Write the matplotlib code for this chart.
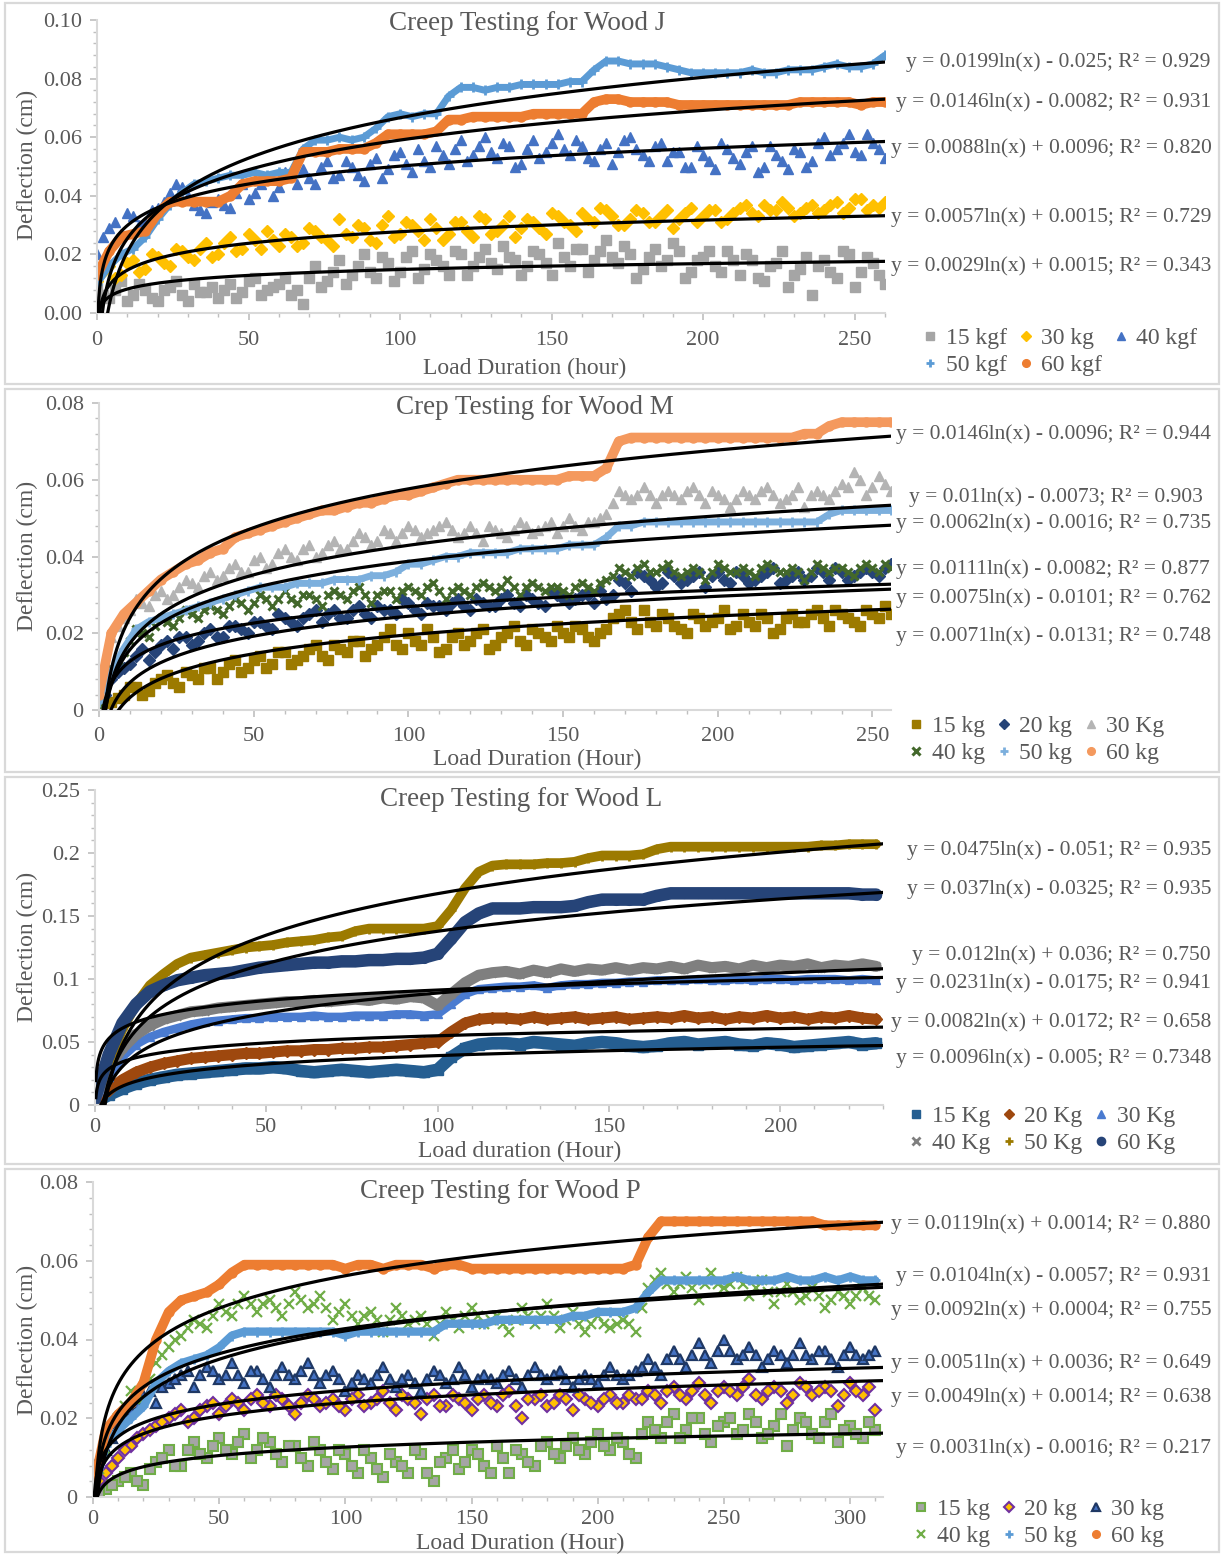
import numpy as np
import matplotlib
matplotlib.use("Agg")
import matplotlib.pyplot as plt
from matplotlib.lines import Line2D
from matplotlib.patches import Rectangle
from matplotlib.ticker import MultipleLocator, FuncFormatter

plt.rcParams["font.family"] = ["Liberation Serif", "DejaVu Serif"]

# ---------------- Wood J (readings every 4 h, extra readings 2 h later for scattered loads) ----------------
J_HOURS = np.arange(0, 261, 4)
J_MID_HOURS = np.arange(2, 259, 4)
J_LABELS = ["15 kgf", "30 kg", "40 kgf", "50 kgf", "60 kgf"]
J_15 = [0.009, 0.005, 0.011, 0.006, 0.008, 0.004, 0.009, 0.006, 0.010, 0.007,
        0.005, 0.010, 0.007, 0.012, 0.008, 0.010, 0.006, 0.003, 0.016, 0.011,
        0.018, 0.013, 0.020, 0.012, 0.017, 0.014, 0.021, 0.015, 0.018, 0.013,
        0.020, 0.016, 0.022, 0.015, 0.019, 0.013, 0.021, 0.017, 0.024, 0.016,
        0.022, 0.018, 0.025, 0.017, 0.020, 0.015, 0.022, 0.018, 0.021, 0.014,
        0.019, 0.016, 0.021, 0.013, 0.018, 0.011, 0.017, 0.009, 0.015, 0.006,
        0.018, 0.012, 0.020, 0.014, 0.017, 0.010]
J_15_MID = [0.006, 0.008, 0.004, 0.010, 0.005, 0.008, 0.011, 0.004, 0.007, 0.009,
            0.008, 0.005, 0.011, 0.006, 0.009, 0.012, 0.008, 0.012, 0.009, 0.014,
            0.010, 0.016, 0.014, 0.019, 0.011, 0.019, 0.012, 0.020, 0.016, 0.021,
            0.013, 0.019, 0.017, 0.023, 0.018, 0.016, 0.020, 0.013, 0.019, 0.022,
            0.014, 0.021, 0.019, 0.023, 0.012, 0.019, 0.016, 0.024, 0.012, 0.018,
            0.021, 0.014, 0.018, 0.020, 0.012, 0.016, 0.021, 0.013, 0.019, 0.016,
            0.014, 0.021, 0.009, 0.019, 0.013]
J_30 = [0.011, 0.016, 0.013, 0.018, 0.015, 0.019, 0.016, 0.021, 0.018, 0.024,
        0.020, 0.026, 0.022, 0.025, 0.028, 0.023, 0.026, 0.024, 0.028, 0.025,
        0.032, 0.026, 0.029, 0.024, 0.033, 0.027, 0.030, 0.025, 0.029, 0.027,
        0.031, 0.026, 0.032, 0.028, 0.033, 0.029, 0.031, 0.027, 0.033, 0.030,
        0.034, 0.031, 0.035, 0.030, 0.032, 0.034, 0.031, 0.035, 0.032, 0.036,
        0.033, 0.035, 0.032, 0.036, 0.034, 0.037, 0.035, 0.036, 0.034, 0.037,
        0.035, 0.038, 0.036, 0.039, 0.037, 0.038]
J_30_MID = [0.014, 0.012, 0.017, 0.014, 0.020, 0.017, 0.022, 0.019, 0.022, 0.019,
            0.024, 0.021, 0.027, 0.022, 0.025, 0.027, 0.023, 0.029, 0.026, 0.023,
            0.027, 0.030, 0.025, 0.030, 0.026, 0.031, 0.028, 0.032, 0.025, 0.031,
            0.028, 0.033, 0.027, 0.030, 0.026, 0.032, 0.029, 0.034, 0.031, 0.028,
            0.032, 0.036, 0.033, 0.030, 0.035, 0.031, 0.033, 0.029, 0.034, 0.031,
            0.035, 0.031, 0.034, 0.037, 0.033, 0.035, 0.038, 0.033, 0.036, 0.034,
            0.037, 0.034, 0.039, 0.035, 0.036]
J_40 = [0.020, 0.029, 0.027, 0.033, 0.031, 0.036, 0.041, 0.043, 0.037, 0.034,
        0.039, 0.036, 0.044, 0.041, 0.046, 0.043, 0.047, 0.049, 0.044, 0.052,
        0.047, 0.050, 0.045, 0.053, 0.049, 0.055, 0.048, 0.052, 0.057, 0.051,
        0.059, 0.054, 0.060, 0.053, 0.057, 0.051, 0.059, 0.055, 0.061, 0.054,
        0.057, 0.052, 0.058, 0.055, 0.060, 0.054, 0.057, 0.052, 0.055, 0.050,
        0.054, 0.049, 0.056, 0.051, 0.057, 0.050, 0.054, 0.049, 0.055, 0.052,
        0.060, 0.056, 0.061, 0.054, 0.058, 0.053]
J_40_MID = [0.026, 0.031, 0.034, 0.030, 0.035, 0.038, 0.044, 0.040, 0.035, 0.038,
            0.037, 0.041, 0.039, 0.044, 0.040, 0.048, 0.044, 0.046, 0.050, 0.046,
            0.052, 0.047, 0.051, 0.046, 0.054, 0.051, 0.056, 0.050, 0.054, 0.056,
            0.052, 0.057, 0.055, 0.058, 0.050, 0.056, 0.053, 0.058, 0.056, 0.059,
            0.053, 0.056, 0.051, 0.059, 0.056, 0.052, 0.058, 0.055, 0.050, 0.057,
            0.052, 0.058, 0.053, 0.055, 0.048, 0.057, 0.052, 0.056, 0.050, 0.058,
            0.054, 0.058, 0.055, 0.061, 0.056]
J_50 = [0.010, 0.016, 0.020, 0.022, 0.026, 0.032, 0.037, 0.041, 0.044, 0.045,
        0.046, 0.047, 0.047, 0.048, 0.047, 0.048, 0.048, 0.056, 0.059, 0.059,
        0.060, 0.059, 0.060, 0.063, 0.067, 0.068, 0.067, 0.068, 0.068, 0.074,
        0.077, 0.077, 0.076, 0.077, 0.077, 0.078, 0.078, 0.078, 0.078, 0.079,
        0.079, 0.083, 0.086, 0.086, 0.085, 0.085, 0.085, 0.084, 0.083, 0.082,
        0.082, 0.082, 0.082, 0.082, 0.083, 0.082, 0.082, 0.083, 0.083, 0.083,
        0.084, 0.085, 0.084, 0.084, 0.085, 0.088]
J_60 = [0.013, 0.021, 0.026, 0.027, 0.028, 0.034, 0.038, 0.038, 0.038, 0.038,
        0.038, 0.040, 0.044, 0.045, 0.045, 0.045, 0.046, 0.055, 0.055, 0.055,
        0.056, 0.056, 0.056, 0.058, 0.061, 0.061, 0.061, 0.061, 0.062, 0.066,
        0.066, 0.067, 0.067, 0.067, 0.067, 0.067, 0.068, 0.068, 0.068, 0.068,
        0.068, 0.072, 0.073, 0.073, 0.072, 0.072, 0.072, 0.072, 0.071, 0.071,
        0.071, 0.071, 0.071, 0.071, 0.071, 0.071, 0.071, 0.071, 0.072, 0.072,
        0.072, 0.072, 0.072, 0.071, 0.072, 0.072]
J_FIT_A = [0.0199, 0.0146, 0.0088, 0.0057, 0.0029]
J_FIT_B = [-0.025, -0.0082, 0.0096, 0.0015, 0.0015]
J_EQUATIONS = ["y = 0.0199ln(x) - 0.025; R² = 0.929",
               "y = 0.0146ln(x) - 0.0082; R² = 0.931",
               "y = 0.0088ln(x) + 0.0096; R² = 0.820",
               "y = 0.0057ln(x) + 0.0015; R² = 0.729",
               "y = 0.0029ln(x) + 0.0015; R² = 0.343"]

# ---------------- Wood M (readings every 4 h, extra readings 2 h later for scattered loads) ----------------
M_HOURS = np.arange(0, 257, 4)
M_MID_HOURS = np.arange(2, 255, 4)
M_LABELS = ["15 kg", "20 kg", "30 Kg", "40 kg", "50 kg", "60 kg"]
M_15 = [0.000, 0.002, 0.004, 0.006, 0.005, 0.008, 0.007, 0.010, 0.008, 0.011,
        0.010, 0.013, 0.011, 0.014, 0.012, 0.015, 0.013, 0.016, 0.014, 0.017,
        0.015, 0.018, 0.016, 0.019, 0.017, 0.020, 0.017, 0.019, 0.016, 0.020,
        0.018, 0.021, 0.017, 0.020, 0.018, 0.021, 0.019, 0.022, 0.019, 0.021,
        0.018, 0.021, 0.025, 0.023, 0.026, 0.022, 0.024, 0.021, 0.025, 0.022,
        0.024, 0.021, 0.025, 0.022, 0.024, 0.021, 0.025, 0.023, 0.026, 0.022,
        0.025, 0.023, 0.026, 0.024, 0.025]
M_15_MID = [0.001, 0.003, 0.006, 0.004, 0.007, 0.009, 0.006, 0.009, 0.011, 0.008,
            0.012, 0.010, 0.013, 0.011, 0.015, 0.012, 0.014, 0.017, 0.013, 0.016,
            0.018, 0.014, 0.017, 0.021, 0.016, 0.018, 0.021, 0.015, 0.019, 0.017,
            0.020, 0.016, 0.019, 0.022, 0.017, 0.020, 0.018, 0.020, 0.022, 0.019,
            0.020, 0.024, 0.026, 0.021, 0.023, 0.025, 0.022, 0.020, 0.024, 0.023,
            0.026, 0.022, 0.023, 0.025, 0.020, 0.024, 0.023, 0.025, 0.024, 0.026,
            0.024, 0.022, 0.025, 0.027]
M_20 = [0.000, 0.008, 0.011, 0.014, 0.013, 0.017, 0.016, 0.019, 0.018, 0.021,
        0.019, 0.022, 0.020, 0.023, 0.021, 0.024, 0.022, 0.025, 0.023, 0.026,
        0.024, 0.027, 0.024, 0.026, 0.025, 0.028, 0.025, 0.027, 0.026, 0.029,
        0.026, 0.028, 0.027, 0.030, 0.027, 0.029, 0.027, 0.030, 0.028, 0.030,
        0.028, 0.029, 0.034, 0.031, 0.035, 0.032, 0.036, 0.033, 0.035, 0.032,
        0.036, 0.033, 0.035, 0.034, 0.036, 0.033, 0.035, 0.034, 0.037, 0.034,
        0.036, 0.035, 0.037, 0.035, 0.038]
M_20_MID = [0.004, 0.010, 0.012, 0.016, 0.015, 0.018, 0.019, 0.017, 0.020, 0.019,
            0.022, 0.021, 0.023, 0.022, 0.025, 0.023, 0.024, 0.026, 0.025, 0.024,
            0.026, 0.025, 0.027, 0.026, 0.029, 0.026, 0.028, 0.027, 0.028, 0.027,
            0.029, 0.027, 0.029, 0.028, 0.030, 0.028, 0.031, 0.029, 0.029, 0.030,
            0.031, 0.030, 0.033, 0.036, 0.034, 0.033, 0.035, 0.034, 0.036, 0.035,
            0.034, 0.036, 0.033, 0.035, 0.037, 0.034, 0.036, 0.035, 0.036, 0.037,
            0.034, 0.036, 0.036, 0.037]
M_30 = [0.005, 0.019, 0.024, 0.029, 0.027, 0.031, 0.030, 0.034, 0.032, 0.036,
        0.035, 0.038, 0.036, 0.040, 0.038, 0.042, 0.039, 0.043, 0.041, 0.044,
        0.042, 0.046, 0.043, 0.047, 0.044, 0.048, 0.045, 0.047, 0.049, 0.045,
        0.048, 0.044, 0.047, 0.045, 0.049, 0.046, 0.048, 0.046, 0.050, 0.047,
        0.049, 0.051, 0.057, 0.055, 0.058, 0.054, 0.057, 0.055, 0.058, 0.054,
        0.056, 0.053, 0.057, 0.055, 0.058, 0.054, 0.056, 0.053, 0.057, 0.055,
        0.059, 0.062, 0.056, 0.061, 0.057]
M_30_MID = [0.012, 0.022, 0.026, 0.028, 0.030, 0.029, 0.032, 0.033, 0.035, 0.034,
            0.037, 0.036, 0.039, 0.037, 0.041, 0.040, 0.042, 0.040, 0.043, 0.042,
            0.044, 0.045, 0.044, 0.046, 0.046, 0.047, 0.046, 0.048, 0.047, 0.046,
            0.046, 0.048, 0.046, 0.047, 0.048, 0.047, 0.049, 0.048, 0.048, 0.049,
            0.050, 0.054, 0.056, 0.056, 0.056, 0.056, 0.056, 0.057, 0.056, 0.057,
            0.055, 0.055, 0.056, 0.057, 0.056, 0.055, 0.058, 0.056, 0.056, 0.057,
            0.058, 0.060, 0.058, 0.059]
M_40 = [0.001, 0.011, 0.015, 0.021, 0.019, 0.024, 0.022, 0.026, 0.024, 0.027,
        0.025, 0.029, 0.026, 0.030, 0.027, 0.031, 0.028, 0.030, 0.027, 0.031,
        0.029, 0.032, 0.028, 0.031, 0.029, 0.032, 0.030, 0.033, 0.029, 0.032,
        0.030, 0.033, 0.031, 0.034, 0.030, 0.033, 0.031, 0.032, 0.030, 0.033,
        0.031, 0.034, 0.037, 0.035, 0.038, 0.036, 0.038, 0.035, 0.037, 0.034,
        0.038, 0.036, 0.037, 0.035, 0.038, 0.036, 0.037, 0.034, 0.038, 0.036,
        0.037, 0.035, 0.038, 0.036, 0.037]
M_40_MID = [0.006, 0.013, 0.018, 0.020, 0.022, 0.023, 0.024, 0.025, 0.026, 0.026,
            0.027, 0.028, 0.028, 0.029, 0.029, 0.029, 0.030, 0.029, 0.030, 0.030,
            0.031, 0.030, 0.030, 0.031, 0.031, 0.031, 0.032, 0.031, 0.031, 0.031,
            0.032, 0.032, 0.032, 0.032, 0.032, 0.032, 0.032, 0.031, 0.032, 0.032,
            0.033, 0.035, 0.036, 0.037, 0.036, 0.037, 0.036, 0.036, 0.036, 0.036,
            0.037, 0.036, 0.036, 0.037, 0.037, 0.036, 0.036, 0.036, 0.037, 0.037,
            0.036, 0.037, 0.037, 0.038]
M_50 = [0.002, 0.010, 0.016, 0.021, 0.023, 0.024, 0.025, 0.026, 0.027, 0.028,
        0.029, 0.030, 0.031, 0.032, 0.032, 0.032, 0.033, 0.033, 0.033, 0.034,
        0.034, 0.034, 0.035, 0.035, 0.036, 0.038, 0.038, 0.039, 0.040, 0.040,
        0.041, 0.041, 0.041, 0.041, 0.042, 0.042, 0.042, 0.042, 0.043, 0.043,
        0.043, 0.045, 0.048, 0.048, 0.049, 0.049, 0.049, 0.049, 0.049, 0.049,
        0.049, 0.049, 0.049, 0.049, 0.049, 0.049, 0.049, 0.049, 0.049, 0.051,
        0.052, 0.052, 0.052, 0.052, 0.052]
M_60 = [0.004, 0.020, 0.025, 0.028, 0.031, 0.034, 0.036, 0.038, 0.039, 0.041,
        0.042, 0.045, 0.046, 0.047, 0.048, 0.049, 0.050, 0.051, 0.052, 0.052,
        0.053, 0.054, 0.054, 0.055, 0.056, 0.056, 0.057, 0.058, 0.059, 0.060,
        0.060, 0.060, 0.060, 0.060, 0.060, 0.060, 0.060, 0.060, 0.061, 0.061,
        0.061, 0.063, 0.070, 0.071, 0.071, 0.071, 0.071, 0.071, 0.071, 0.071,
        0.071, 0.071, 0.071, 0.071, 0.071, 0.071, 0.071, 0.072, 0.072, 0.074,
        0.075, 0.075, 0.075, 0.075, 0.075]
M_FIT_A = [0.0146, 0.01, 0.0062, 0.0111, 0.0075, 0.0071]
M_FIT_B = [-0.0096, -0.0073, -0.0016, -0.0082, -0.0101, -0.0131]
M_EQUATIONS = ["y = 0.0146ln(x) - 0.0096; R² = 0.944",
               "y = 0.01ln(x) - 0.0073; R² = 0.903",
               "y = 0.0062ln(x) - 0.0016; R² = 0.735",
               "y = 0.0111ln(x) - 0.0082; R² = 0.877",
               "y = 0.0075ln(x) - 0.0101; R² = 0.762",
               "y = 0.0071ln(x) - 0.0131; R² = 0.748"]

# ---------------- Wood L (readings every 4 h) ----------------
L_HOURS = np.arange(0, 229, 4)
L_LABELS = ["15 Kg", "20 Kg", "30 Kg", "40 Kg", "50 Kg", "60 Kg"]
L_15 = [0.002, 0.008, 0.013, 0.017, 0.020, 0.022, 0.024, 0.025, 0.026, 0.027,
        0.028, 0.029, 0.029, 0.030, 0.029, 0.027, 0.026, 0.027, 0.028, 0.027,
        0.026, 0.027, 0.028, 0.027, 0.026, 0.028, 0.038, 0.045, 0.048, 0.049,
        0.049, 0.048, 0.050, 0.049, 0.048, 0.047, 0.049, 0.050, 0.049, 0.047,
        0.046, 0.047, 0.049, 0.050, 0.048, 0.049, 0.050, 0.048, 0.047, 0.049,
        0.048, 0.046, 0.047, 0.048, 0.049, 0.050, 0.048, 0.049]
L_20 = [0.003, 0.012, 0.020, 0.026, 0.030, 0.033, 0.035, 0.037, 0.038, 0.039,
        0.040, 0.041, 0.041, 0.042, 0.043, 0.043, 0.044, 0.044, 0.045, 0.045,
        0.046, 0.046, 0.047, 0.048, 0.049, 0.050, 0.058, 0.065, 0.068, 0.069,
        0.069, 0.068, 0.070, 0.068, 0.069, 0.070, 0.068, 0.069, 0.070, 0.068,
        0.069, 0.070, 0.069, 0.071, 0.069, 0.070, 0.068, 0.070, 0.069, 0.071,
        0.069, 0.070, 0.068, 0.070, 0.069, 0.071, 0.069, 0.068]
L_30 = [0.003, 0.022, 0.038, 0.048, 0.054, 0.058, 0.061, 0.064, 0.066, 0.067,
        0.068, 0.069, 0.069, 0.070, 0.070, 0.070, 0.071, 0.070, 0.070, 0.071,
        0.071, 0.071, 0.072, 0.072, 0.071, 0.072, 0.080, 0.088, 0.092, 0.093,
        0.094, 0.094, 0.095, 0.093, 0.095, 0.096, 0.096, 0.097, 0.097, 0.098,
        0.098, 0.099, 0.099, 0.099, 0.100, 0.099, 0.099, 0.100, 0.099, 0.100,
        0.100, 0.099, 0.100, 0.100, 0.100, 0.099, 0.100, 0.099]
L_40 = [0.005, 0.030, 0.045, 0.056, 0.063, 0.068, 0.071, 0.074, 0.075, 0.077,
        0.078, 0.079, 0.080, 0.081, 0.082, 0.082, 0.083, 0.082, 0.083, 0.084,
        0.083, 0.085, 0.084, 0.086, 0.085, 0.079, 0.088, 0.097, 0.103, 0.105,
        0.106, 0.104, 0.107, 0.105, 0.108, 0.106, 0.108, 0.107, 0.109, 0.107,
        0.109, 0.108, 0.110, 0.108, 0.111, 0.109, 0.110, 0.108, 0.111, 0.109,
        0.111, 0.110, 0.112, 0.109, 0.111, 0.110, 0.112, 0.110]
L_50 = [0.005, 0.035, 0.060, 0.080, 0.095, 0.104, 0.112, 0.117, 0.119, 0.121,
        0.123, 0.125, 0.126, 0.127, 0.129, 0.130, 0.131, 0.133, 0.134, 0.138,
        0.140, 0.140, 0.140, 0.140, 0.140, 0.142, 0.155, 0.172, 0.185, 0.190,
        0.191, 0.191, 0.191, 0.192, 0.192, 0.193, 0.196, 0.198, 0.198, 0.198,
        0.199, 0.203, 0.205, 0.205, 0.205, 0.205, 0.205, 0.205, 0.205, 0.205,
        0.205, 0.205, 0.205, 0.206, 0.206, 0.207, 0.207, 0.207]
L_60 = [0.005, 0.040, 0.065, 0.080, 0.090, 0.095, 0.099, 0.101, 0.103, 0.104,
        0.105, 0.107, 0.109, 0.110, 0.111, 0.112, 0.113, 0.113, 0.114, 0.114,
        0.115, 0.115, 0.116, 0.116, 0.117, 0.120, 0.132, 0.145, 0.152, 0.156,
        0.156, 0.156, 0.157, 0.157, 0.157, 0.158, 0.161, 0.163, 0.163, 0.163,
        0.163, 0.166, 0.168, 0.168, 0.168, 0.168, 0.168, 0.168, 0.168, 0.168,
        0.168, 0.168, 0.168, 0.168, 0.168, 0.168, 0.167, 0.167]
L_FIT_A = [0.0475, 0.037, 0.012, 0.0231, 0.0082, 0.0096]
L_FIT_B = [-0.051, -0.0325, 0.036, -0.0175, 0.0172, -0.005]
L_EQUATIONS = ["y = 0.0475ln(x) - 0.051; R² = 0.935",
               "y = 0.037ln(x) - 0.0325; R² = 0.935",
               "y = 0.012ln(x) + 0.036; R² = 0.750",
               "y = 0.0231ln(x) - 0.0175; R² = 0.941",
               "y = 0.0082ln(x) + 0.0172; R² = 0.658",
               "y = 0.0096ln(x) - 0.005; R² = 0.7348"]

# ---------------- Wood P (readings every 5 h, extra readings 2.5 h later for scattered loads) ----------------
P_HOURS = np.arange(0, 311, 5)
P_MID_HOURS = np.arange(2.5, 310, 5)
P_LABELS = ["15 kg", "20 kg", "30 kg", "40 kg", "50 kg", "60 kg"]
P_15 = [0.001, 0.002, 0.004, 0.006, 0.003, 0.009, 0.012, 0.008, 0.014, 0.010,
        0.015, 0.011, 0.016, 0.012, 0.014, 0.009, 0.013, 0.008, 0.012, 0.007,
        0.011, 0.006, 0.010, 0.005, 0.009, 0.006, 0.011, 0.004, 0.010, 0.007,
        0.012, 0.008, 0.013, 0.006, 0.011, 0.008, 0.014, 0.010, 0.015, 0.011,
        0.016, 0.012, 0.014, 0.010, 0.019, 0.015, 0.021, 0.017, 0.020, 0.014,
        0.019, 0.016, 0.021, 0.015, 0.018, 0.013, 0.020, 0.016, 0.019, 0.014,
        0.018, 0.015, 0.017]
P_15_MID = [0.001, 0.003, 0.005, 0.004, 0.007, 0.010, 0.008, 0.012, 0.011, 0.013,
            0.012, 0.014, 0.010, 0.015, 0.011, 0.013, 0.010, 0.014, 0.009, 0.012,
            0.008, 0.012, 0.007, 0.011, 0.008, 0.012, 0.006, 0.009, 0.012, 0.009,
            0.011, 0.006, 0.010, 0.012, 0.009, 0.013, 0.011, 0.013, 0.012, 0.014,
            0.013, 0.015, 0.011, 0.016, 0.017, 0.019, 0.015, 0.020, 0.016, 0.018,
            0.020, 0.017, 0.019, 0.016, 0.021, 0.017, 0.019, 0.015, 0.021, 0.017,
            0.016, 0.019]
P_20 = [0.003, 0.006, 0.010, 0.013, 0.016, 0.018, 0.020, 0.022, 0.020, 0.023,
        0.021, 0.025, 0.022, 0.026, 0.023, 0.025, 0.021, 0.026, 0.023, 0.025,
        0.022, 0.026, 0.024, 0.027, 0.022, 0.025, 0.021, 0.026, 0.023, 0.025,
        0.022, 0.026, 0.023, 0.027, 0.020, 0.025, 0.023, 0.026, 0.022, 0.025,
        0.023, 0.026, 0.024, 0.025, 0.027, 0.024, 0.028, 0.025, 0.029, 0.024,
        0.028, 0.026, 0.030, 0.025, 0.028, 0.024, 0.029, 0.026, 0.028, 0.023,
        0.029, 0.026, 0.022]
P_20_MID = [0.004, 0.008, 0.012, 0.015, 0.017, 0.019, 0.021, 0.019, 0.022, 0.024,
            0.023, 0.024, 0.025, 0.024, 0.026, 0.023, 0.024, 0.025, 0.024, 0.023,
            0.025, 0.023, 0.025, 0.024, 0.026, 0.024, 0.025, 0.023, 0.026, 0.024,
            0.025, 0.024, 0.026, 0.023, 0.025, 0.026, 0.024, 0.025, 0.026, 0.024,
            0.025, 0.024, 0.026, 0.025, 0.026, 0.027, 0.026, 0.027, 0.026, 0.027,
            0.027, 0.028, 0.026, 0.027, 0.027, 0.026, 0.028, 0.027, 0.027, 0.026,
            0.027, 0.028]
P_30 = [0.008, 0.012, 0.018, 0.022, 0.026, 0.024, 0.029, 0.031, 0.028, 0.033,
        0.030, 0.034, 0.029, 0.032, 0.028, 0.033, 0.030, 0.034, 0.029, 0.032,
        0.027, 0.031, 0.029, 0.033, 0.028, 0.031, 0.027, 0.032, 0.029, 0.033,
        0.028, 0.031, 0.029, 0.032, 0.028, 0.033, 0.030, 0.032, 0.028, 0.031,
        0.029, 0.033, 0.030, 0.032, 0.035, 0.031, 0.037, 0.033, 0.039, 0.034,
        0.040, 0.035, 0.038, 0.033, 0.037, 0.034, 0.039, 0.035, 0.037, 0.033,
        0.038, 0.035, 0.037]
P_30_MID = [0.010, 0.015, 0.020, 0.024, 0.027, 0.028, 0.030, 0.032, 0.031, 0.032,
            0.031, 0.031, 0.032, 0.030, 0.031, 0.031, 0.032, 0.031, 0.031, 0.030,
            0.029, 0.030, 0.031, 0.030, 0.030, 0.029, 0.030, 0.031, 0.030, 0.031,
            0.030, 0.030, 0.031, 0.030, 0.031, 0.031, 0.031, 0.030, 0.030, 0.030,
            0.031, 0.031, 0.031, 0.033, 0.033, 0.035, 0.035, 0.036, 0.036, 0.037,
            0.037, 0.036, 0.036, 0.035, 0.036, 0.036, 0.036, 0.037, 0.035, 0.036,
            0.036, 0.036]
P_40 = [0.003, 0.012, 0.020, 0.027, 0.025, 0.034, 0.038, 0.041, 0.045, 0.043,
        0.049, 0.046, 0.051, 0.047, 0.050, 0.046, 0.052, 0.048, 0.051, 0.045,
        0.049, 0.044, 0.047, 0.042, 0.048, 0.044, 0.046, 0.041, 0.047, 0.043,
        0.048, 0.044, 0.046, 0.042, 0.048, 0.044, 0.049, 0.043, 0.047, 0.042,
        0.046, 0.043, 0.045, 0.042, 0.053, 0.057, 0.052, 0.056, 0.050, 0.057,
        0.053, 0.056, 0.051, 0.055, 0.049, 0.054, 0.050, 0.053, 0.048, 0.052,
        0.049, 0.053, 0.050]
P_40_MID = [0.007, 0.016, 0.023, 0.026, 0.030, 0.036, 0.040, 0.043, 0.044, 0.046,
            0.047, 0.049, 0.049, 0.049, 0.048, 0.049, 0.050, 0.049, 0.048, 0.047,
            0.046, 0.046, 0.045, 0.045, 0.046, 0.045, 0.044, 0.044, 0.045, 0.046,
            0.046, 0.045, 0.044, 0.045, 0.046, 0.046, 0.046, 0.045, 0.044, 0.044,
            0.044, 0.044, 0.044, 0.048, 0.055, 0.054, 0.054, 0.053, 0.054, 0.054,
            0.054, 0.054, 0.053, 0.052, 0.052, 0.052, 0.051, 0.051, 0.050, 0.051,
            0.051, 0.051]
P_50 = [0.001, 0.013, 0.017, 0.020, 0.023, 0.029, 0.032, 0.034, 0.035, 0.036,
        0.038, 0.041, 0.042, 0.042, 0.042, 0.042, 0.042, 0.042, 0.042, 0.042,
        0.041, 0.042, 0.042, 0.042, 0.042, 0.042, 0.042, 0.042, 0.044, 0.044,
        0.044, 0.044, 0.045, 0.045, 0.045, 0.045, 0.045, 0.045, 0.046, 0.046,
        0.047, 0.047, 0.047, 0.048, 0.052, 0.055, 0.055, 0.055, 0.055, 0.055,
        0.055, 0.056, 0.055, 0.055, 0.055, 0.056, 0.055, 0.055, 0.056, 0.055,
        0.056, 0.055, 0.055]
P_60 = [0.002, 0.017, 0.021, 0.024, 0.029, 0.040, 0.047, 0.050, 0.051, 0.052,
        0.054, 0.057, 0.059, 0.059, 0.059, 0.059, 0.059, 0.059, 0.059, 0.059,
        0.058, 0.059, 0.059, 0.058, 0.059, 0.059, 0.059, 0.058, 0.059, 0.059,
        0.058, 0.058, 0.058, 0.058, 0.058, 0.058, 0.058, 0.058, 0.058, 0.058,
        0.058, 0.058, 0.058, 0.059, 0.066, 0.070, 0.070, 0.070, 0.070, 0.070,
        0.070, 0.070, 0.070, 0.070, 0.070, 0.070, 0.070, 0.070, 0.069, 0.069,
        0.069, 0.069, 0.069]
P_FIT_A = [0.0119, 0.0104, 0.0092, 0.0051, 0.0049, 0.0031]
P_FIT_B = [0.0014, -0.0057, 0.0004, 0.0036, 0.0014, -0.0016]
P_EQUATIONS = ["y = 0.0119ln(x) + 0.0014; R² = 0.880",
               "y = 0.0104ln(x) - 0.0057; R² = 0.931",
               "y = 0.0092ln(x) + 0.0004; R² = 0.755",
               "y = 0.0051ln(x) + 0.0036; R² = 0.649",
               "y = 0.0049ln(x) + 0.0014; R² = 0.638",
               "y = 0.0031ln(x) - 0.0016; R² = 0.217"]

W, H = 1224, 1555
TEXT = "#595959"
AXIS = "#D9D9D9"
TICK = "#BFBFBF"


def fx(px):
    return px / W


def fy(py):
    return 1 - py / H


def general_fmt(v, _pos):
    v = round(v, 4)
    return "0" if v == 0 else f"{v:g}"


def style(marker, color, ms, band=0, mfc=None, mec=None, mew=1.0):
    return dict(marker=marker, color=color, ms=ms, band=band,
                mfc=mfc or color, mec=mec or color, mew=mew)


J_STYLES = [style("s", "#A5A5A5", 7), style("D", "#FFC000", 6),
            style("^", "#4472C4", 7.5), style("+", "#5B9BD5", 7, band=5, mew=2),
            style("o", "#ED7D31", 6.5, band=7)]
M_STYLES = [style("s", "#9C7A00", 7), style("D", "#264478", 6),
            style("^", "#B4B4B4", 7.5), style("x", "#43682B", 6, mew=2.2),
            style("+", "#7CAFDD", 7, band=5, mew=2), style("o", "#F4995E", 6.5, band=7)]
L_STYLES = [style("s", "#255E91", 6.5, band=9), style("D", "#9E480E", 6, band=8),
            style("^", "#4A7BD0", 6, band=6), style("x", "#7F7F7F", 6, mew=2, band=8),
            style("+", "#9C7A00", 7, band=7, mew=2), style("o", "#264478", 7, band=9)]
P_STYLES = [style("s", "#A5A5A5", 6.5, mec="#70AD47", mew=1.5),
            style("D", "#FFC000", 6, mec="#7030A0", mew=1.5),
            style("^", "#4472C4", 7.5, mec="#1F3864", mew=1.6),
            style("x", "#70AD47", 7, mew=1.6),
            style("+", "#5B9BD5", 7, band=6, mew=2), style("o", "#ED7D31", 6.5, band=7)]

PANELS = [
    dict(frame=(5, 3, 1219, 384), box=(97, 20, 885, 313), xlim=260, ylim=0.10,
         xmajor=50, ymajor=0.02, fixed2=True, xpad=8, hours=J_HOURS, mid_hours=J_MID_HOURS,
         series=[(J_15, J_15_MID), (J_30, J_30_MID), (J_40, J_40_MID), (J_50, None), (J_60, None)],
         styles=J_STYLES, labels=J_LABELS,
         fit_a=J_FIT_A, fit_b=J_FIT_B, equations=J_EQUATIONS,
         eq_pos=[(906, 62), (896, 102), (891, 148), (891, 217), (891, 266)],
         title="Creep Testing for Wood J", title_pos=(527, 24),
         xlabel="Load Duration (hour)", xlabel_pos=(525, 368), ylabel_y=165,
         legend_pos=(922, 352)),
    dict(frame=(5, 389, 1219, 772), box=(99, 403, 891, 710), xlim=256, ylim=0.08,
         xmajor=50, ymajor=0.02, fixed2=False, xpad=7, hours=M_HOURS, mid_hours=M_MID_HOURS,
         series=[(M_15, M_15_MID), (M_20, M_20_MID), (M_30, M_30_MID), (M_40, M_40_MID),
                 (M_50, None), (M_60, None)],
         styles=M_STYLES, labels=M_LABELS,
         fit_a=M_FIT_A, fit_b=M_FIT_B, equations=M_EQUATIONS,
         eq_pos=[(896, 434), (909, 497), (896, 523), (896, 569), (896, 598), (896, 636)],
         title="Crep Testing for Wood M", title_pos=(535, 408),
         xlabel="Load Duration (Hour)", xlabel_pos=(537, 759), ylabel_y=556,
         legend_pos=(908, 740)),
    dict(frame=(5, 777, 1219, 1164), box=(95, 790, 883, 1105), xlim=230, ylim=0.25,
         xmajor=50, ymajor=0.05, fixed2=False, xpad=4, hours=L_HOURS, mid_hours=None,
         series=[(L_15, None), (L_20, None), (L_30, None), (L_40, None), (L_50, None), (L_60, None)],
         styles=L_STYLES, labels=L_LABELS,
         fit_a=L_FIT_A, fit_b=L_FIT_B, equations=L_EQUATIONS,
         eq_pos=[(907, 850), (907, 889), (912, 955), (896, 983), (891, 1022), (896, 1058)],
         title="Creep Testing for Wood L", title_pos=(521, 800),
         xlabel="Load duration (Hour)", xlabel_pos=(520, 1151), ylabel_y=947,
         legend_pos=(908, 1130)),
    dict(frame=(5, 1169, 1219, 1552), box=(93, 1182, 883, 1497), xlim=313, ylim=0.08,
         xmajor=50, ymajor=0.02, fixed2=False, xpad=4, hours=P_HOURS, mid_hours=P_MID_HOURS,
         series=[(P_15, P_15_MID), (P_20, P_20_MID), (P_30, P_30_MID), (P_40, P_40_MID),
                 (P_50, None), (P_60, None)],
         styles=P_STYLES, labels=P_LABELS,
         fit_a=P_FIT_A, fit_b=P_FIT_B, equations=P_EQUATIONS,
         eq_pos=[(891, 1224), (896, 1276), (891, 1310), (891, 1363), (891, 1397), (896, 1448)],
         title="Creep Testing for Wood P", title_pos=(500, 1191),
         xlabel="Load Duration (Hour)", xlabel_pos=(520, 1543), ylabel_y=1340,
         legend_pos=(913, 1523)),
]


def draw_panel(fig, p):
    x0, y0, x1, y1 = p["frame"]
    fig.add_artist(Rectangle((fx(x0), fy(y1)), (x1 - x0) / W, (y1 - y0) / H,
                             transform=fig.transFigure, fill=False, edgecolor=AXIS, lw=1.6))

    bx0, by0, bx1, by1 = p["box"]
    ax = fig.add_axes([fx(bx0), fy(by1), (bx1 - bx0) / W, (by1 - by0) / H])
    ax.set_xlim(0, p["xlim"])
    ax.set_ylim(0, p["ylim"])
    for side in ("top", "right"):
        ax.spines[side].set_visible(False)
    for side in ("left", "bottom"):
        ax.spines[side].set_color(AXIS)
        ax.spines[side].set_linewidth(1.5)
    ax.xaxis.set_major_locator(MultipleLocator(p["xmajor"]))
    ax.xaxis.set_minor_locator(MultipleLocator(p["xmajor"] / 5))
    ax.yaxis.set_major_locator(MultipleLocator(p["ymajor"]))
    ax.yaxis.set_minor_locator(MultipleLocator(p["ymajor"] / 5))
    if p["fixed2"]:
        ax.yaxis.set_major_formatter(FuncFormatter(lambda v, _p: f"{v:.2f}"))
    else:
        ax.yaxis.set_major_formatter(FuncFormatter(general_fmt))
    ax.tick_params(which="major", direction="out", length=5, width=1.2, color=TICK,
                   labelcolor=TEXT, labelsize=16, pad=6)
    ax.tick_params(axis="x", which="major", pad=p["xpad"])
    ax.tick_params(which="minor", direction="out", length=3, width=1.0, color=TICK)
    ax.patch.set_alpha(0)

    for (vals, mid), st in zip(p["series"], p["styles"]):
        if st["band"]:
            ax.plot(p["hours"], vals, "-", color=st["color"], lw=st["band"],
                    solid_capstyle="round", solid_joinstyle="round", zorder=2)
        marks = dict(linestyle="none", marker=st["marker"], ms=st["ms"],
                     mfc=st["mfc"], mec=st["mec"], mew=st["mew"], zorder=2)
        ax.plot(p["hours"], vals, **marks)
        if mid is not None:
            ax.plot(p["mid_hours"], mid, **marks)

    xs = np.geomspace(0.25, p["xlim"], 600)
    for a, b in zip(p["fit_a"], p["fit_b"]):
        ax.plot(xs, a * np.log(xs) + b, color="black", lw=2.3, zorder=4)

    for eq, (ex, ey) in zip(p["equations"], p["eq_pos"]):
        fig.text(fx(ex), fy(ey), eq, ha="left", va="center", fontsize=15.5, color=TEXT)

    fig.text(fx(p["title_pos"][0]), fy(p["title_pos"][1]), p["title"],
             ha="center", va="center", fontsize=19.5, color=TEXT)
    fig.text(fx(p["xlabel_pos"][0]), fy(p["xlabel_pos"][1]), p["xlabel"],
             ha="center", va="center", fontsize=17, color=TEXT)
    fig.text(fx(27), fy(p["ylabel_y"]), "Deflection (cm)", rotation=90,
             ha="center", va="center", fontsize=17, color=TEXT)

    handles = [Line2D([], [], linestyle="none", marker=st["marker"], ms=st["ms"] * 0.85,
                      mfc=st["mfc"], mec=st["mec"], mew=st["mew"]) for st in p["styles"]]
    n, ncol = len(handles), 3
    order = [i for c in range(ncol) for i in range(c, n, ncol)]
    fig.legend([handles[i] for i in order], [p["labels"][i] for i in order],
               ncol=ncol, loc="center left",
               bbox_to_anchor=(fx(p["legend_pos"][0]), fy(p["legend_pos"][1])),
               frameon=False, fontsize=17, handlelength=0.7, handletextpad=0.3,
               columnspacing=0.45, labelspacing=0.22, borderpad=0, borderaxespad=0,
               labelcolor=TEXT)


fig = plt.figure(figsize=(W / 100, H / 100), dpi=100)
fig.patch.set_facecolor("white")
for panel in PANELS:
    draw_panel(fig, panel)

fig.savefig("out.png", dpi=100)
